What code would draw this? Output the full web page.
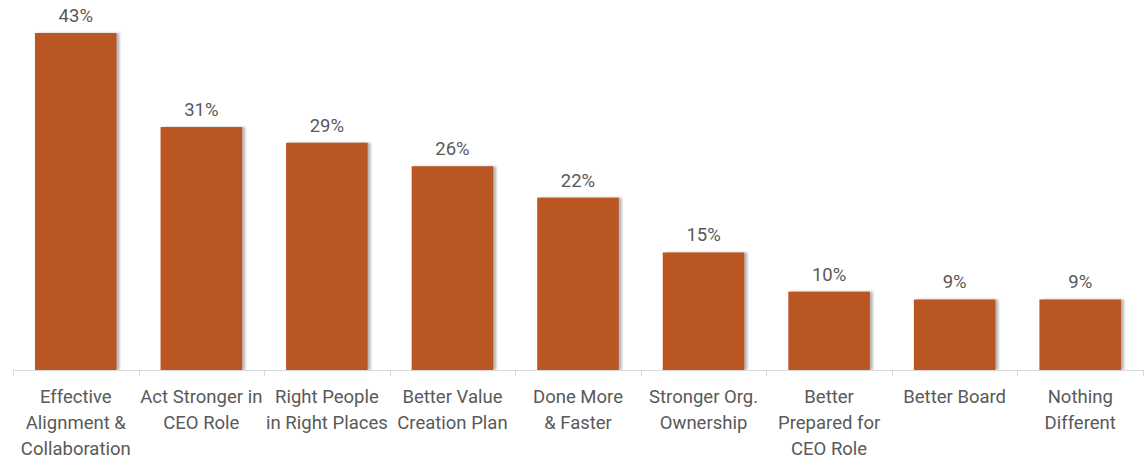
<!DOCTYPE html>
<html>
<head>
<meta charset="utf-8">
<script src="https://cdn.jsdelivr.net/npm/d3@7"></script>
<style>
  body { margin: 0; background: #fff; }
  text { font-family: Roboto, "Open Sans", sans-serif; fill: #595959; }
</style>
</head>
<body>
<div class="chart-container"></div>
<script>
var width = 1148;
var height = 462;

// categories, line breaks as they appear under the axis
var categories = [
  "Effective|Alignment &|Collaboration",
  "Act Stronger in|CEO Role",
  "Right People|in Right Places",
  "Better Value|Creation Plan",
  "Done More|& Faster",
  "Stronger Org.|Ownership",
  "Better|Prepared for|CEO Role",
  "Better Board",
  "Nothing|Different"
];
var values = [0.43, 0.31, 0.29, 0.26, 0.22, 0.15, 0.10, 0.09, 0.09];

var margin = { top: 0, right: 5, bottom: 92, left: 13 };
var baseY = 370;

var svg = d3
  .select(".chart-container")
  .append("svg")
  .attr("width", width)
  .attr("height", height);

// soft shadow on the right side of each bar
var defs = svg.append("defs");
var filter = defs.append("filter")
  .attr("id", "shadow")
  .attr("x", "-10%").attr("y", "-10%")
  .attr("width", "130%").attr("height", "120%");
filter.append("feDropShadow")
  .attr("dx", 3)
  .attr("dy", 0)
  .attr("stdDeviation", 1)
  .attr("flood-color", "#7f7f7f")
  .attr("flood-opacity", 0.55);

var x = d3
  .scaleBand()
  .domain(categories)
  .range([margin.left, width - margin.right])
  .paddingInner(0.35)
  .paddingOuter(0.175);

// band edges for the tick marks
var step = (width - margin.right - margin.left) / categories.length;

var y = d3
  .scaleLinear()
  .domain([0, 0.43])
  .range([baseY, 33]);

// bars
svg
  .append("g")
  .attr("class", "bars")
  .selectAll("rect")
  .data(values)
  .enter()
  .append("rect")
  .attr("x", (d, i) => x(categories[i]))
  .attr("y", (d) => y(d))
  .attr("width", x.bandwidth())
  .attr("height", (d) => baseY - y(d))
  .attr("fill", "#BA5623")
  .attr("filter", "url(#shadow)");

// value labels
svg
  .append("g")
  .attr("class", "labels")
  .selectAll("text")
  .data(values)
  .enter()
  .append("text")
  .attr("x", (d, i) => x(categories[i]) + x.bandwidth() / 2)
  .attr("y", (d) => y(d) - 11)
  .attr("text-anchor", "middle")
  .attr("font-size", "18.5px")
  .text((d) => d3.format(".0%")(d));

// axis line with tick marks between categories
var axis = svg.append("g").attr("class", "x axis");
axis
  .append("line")
  .attr("x1", margin.left)
  .attr("x2", width - margin.right)
  .attr("y1", baseY + 0.5)
  .attr("y2", baseY + 0.5)
  .attr("stroke", "#d9d9d9");

axis
  .selectAll(".tick-mark")
  .data(d3.range(categories.length + 1))
  .enter()
  .append("line")
  .attr("class", "tick-mark")
  .attr("x1", (i) => Math.round(margin.left + i * step) + 0.5)
  .attr("x2", (i) => Math.round(margin.left + i * step) + 0.5)
  .attr("y1", baseY)
  .attr("y2", baseY + 6)
  .attr("stroke", "#d9d9d9");

// category labels, one tspan per line
var catLabels = axis
  .selectAll(".cat")
  .data(categories)
  .enter()
  .append("text")
  .attr("class", "cat")
  .attr("text-anchor", "middle")
  .attr("font-size", "18.5px")
  .attr("transform", (d) => `translate(${x(d) + x.bandwidth() / 2}, ${baseY + 33})`);

catLabels
  .selectAll("tspan")
  .data((d) => d.split("|"))
  .enter()
  .append("tspan")
  .attr("x", 0)
  .attr("y", (d, i) => i * 26)
  .text((d) => d);
</script>
</body>
</html>
